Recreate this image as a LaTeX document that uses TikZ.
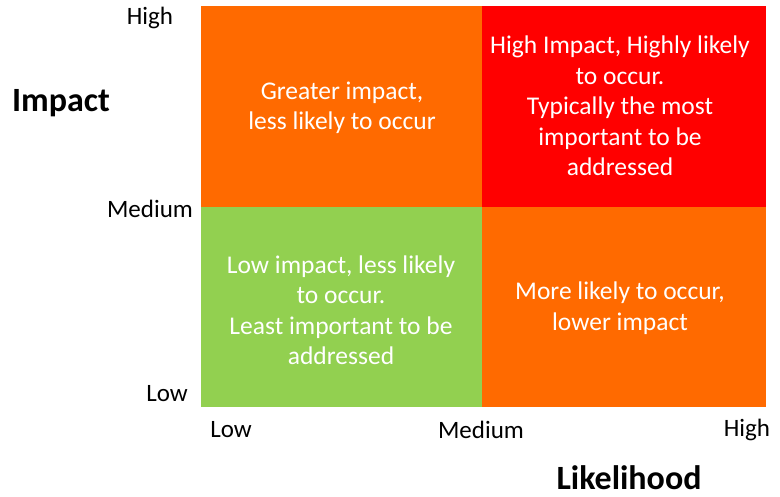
\documentclass[tikz,border=0pt]{standalone}
\usepackage{fontspec}
\setmainfont{Carlito}
\definecolor{qorange}{RGB}{255,106,0}
\definecolor{qred}{RGB}{255,0,0}
\definecolor{qgreen}{RGB}{146,208,80}
\begin{document}
\begin{tikzpicture}[x=1pt,y=-1pt,
  quad/.style={draw=none,inner sep=0pt,minimum width=281pt,minimum height=200pt,anchor=north west},
  qtext/.style={text=white,align=center,font=\fontsize{25.5}{30.5}\selectfont},
  axlab/.style={font=\fontsize{25}{28}\selectfont,text=black},
  title/.style={font=\fontsize{34}{38}\selectfont\bfseries,text=black}]
\useasboundingbox (0,0) rectangle (780,497);
\fill[white] (0,0) rectangle (780,497);
\node[quad,fill=qorange,minimum width=281pt,minimum height=201pt] (tl) at (201,6) {};
\node[quad,fill=qred,minimum width=284pt,minimum height=201pt] (tr) at (482,6) {};
\node[quad,fill=qgreen,minimum width=281pt,minimum height=200pt] (bl) at (201,207) {};
\node[quad,fill=qorange,minimum width=284pt,minimum height=200pt] (br) at (482,207) {};
\node[qtext] (ttl) at (342,108) {Greater impact,\\less likely to occur};
\node[qtext] (ttr) at (620,106) {High Impact, Highly likely\\to occur.\\Typically the most\\important to be\\addressed};
\node[qtext] (tbl) at (341,310) {Low impact, less likely\\to occur.\\Least important to be\\addressed};
\node[qtext] (tbr) at (620,308) {More likely to occur,\\lower impact};
\node[axlab] (yh) at (150,18) {High};
\node[axlab] (ym) at (150,209) {Medium};
\node[axlab] (yl) at (167,394) {Low};
\node[axlab] (xl) at (231,430) {Low};
\node[axlab] (xm) at (481,430) {Medium};
\node[axlab] (xh) at (747,430) {High};
\node[title] (ti) at (61,103) {Impact};
\node[title] (tli) at (629,478) {Likelihood};
\end{tikzpicture}
\end{document}
